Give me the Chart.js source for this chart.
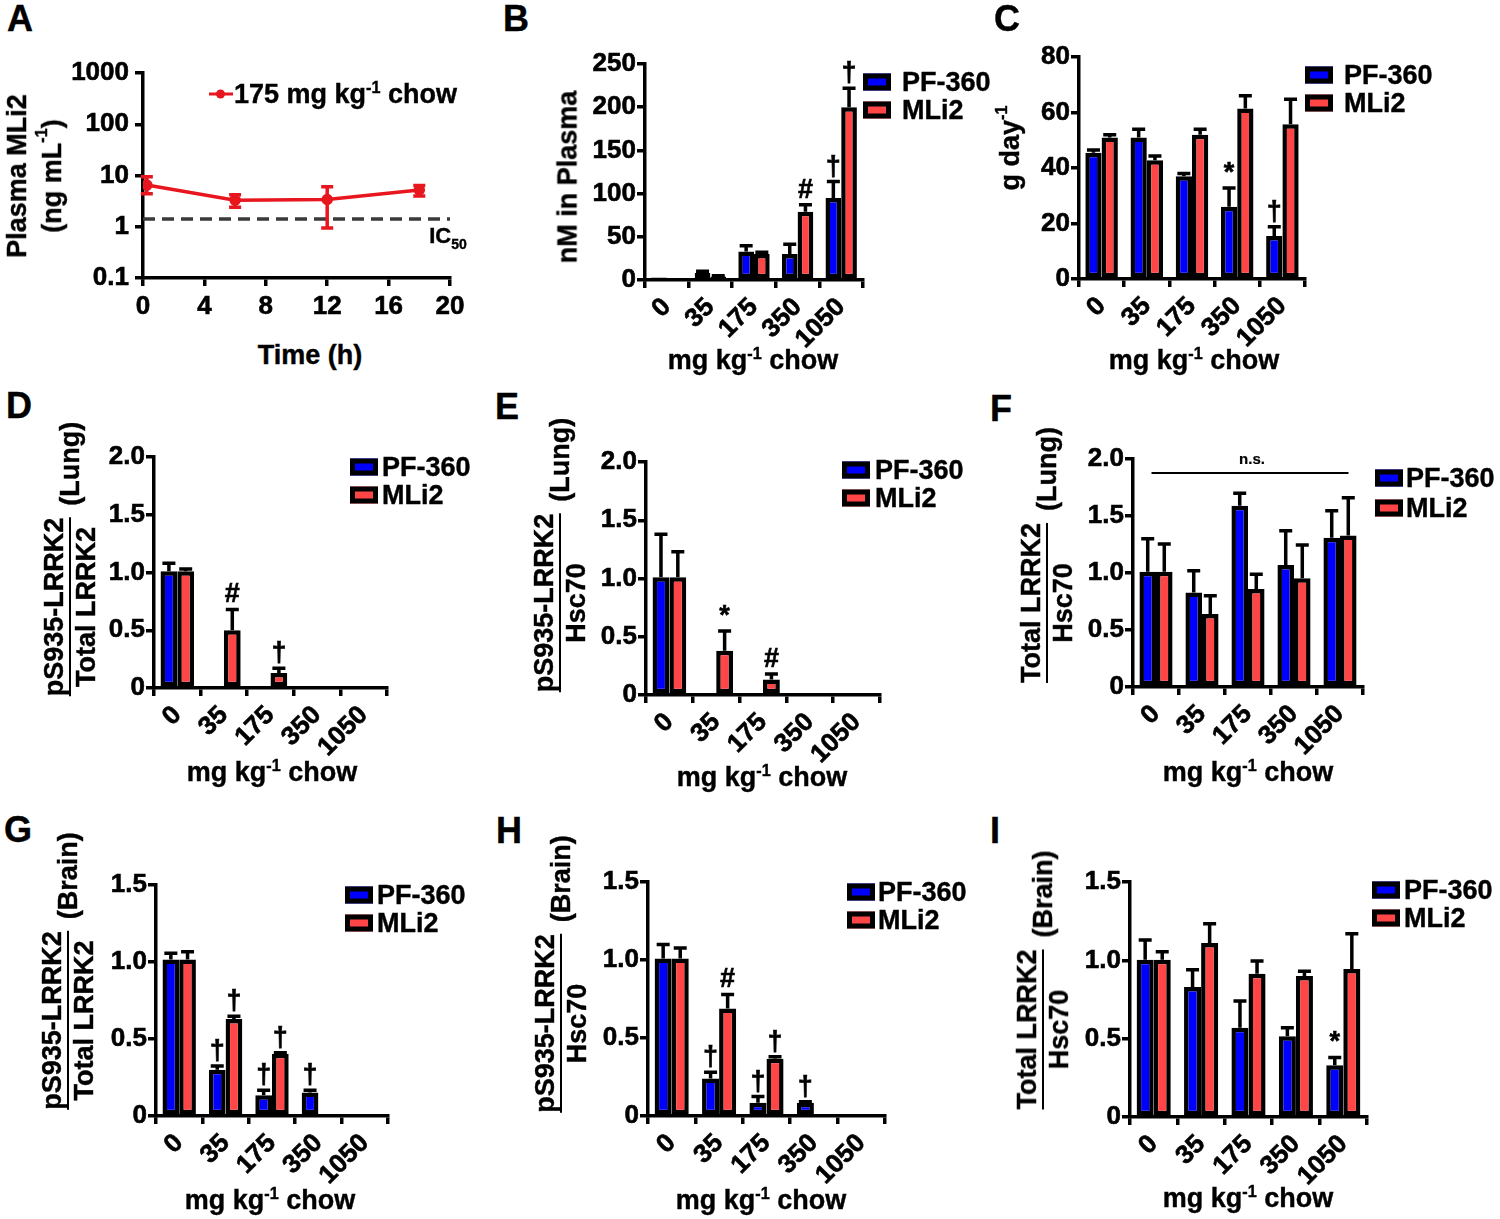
<!DOCTYPE html>
<html><head><meta charset="utf-8">
<script src="https://cdn.jsdelivr.net/npm/chart.js@4"></script>
<style>
html,body{margin:0;padding:0;background:#fff;}
body{width:1500px;height:1219px;position:relative;overflow:hidden;font-family:'Liberation Sans',Arial,Helvetica,sans-serif;font-weight:bold;color:#000;-webkit-text-stroke:0.4px #000;}
canvas{position:absolute;}
.t{position:absolute;white-space:nowrap;transform:translate(-50%,-50%);font-size:27px;line-height:1;}
.letter{position:absolute;font-size:36px;line-height:1;}
.yt{position:absolute;white-space:nowrap;transform:translate(-50%,-50%) rotate(-90deg);font-size:27px;text-align:center;}
.yt .ln{line-height:35px;}
.fr{display:flex;align-items:center;}
.frac{display:flex;flex-direction:column;align-items:center;}
.frac .n,.frac .d{line-height:30px;}
.frac .bar{align-self:stretch;height:2px;background:#000;}
.tag{margin-left:12px;line-height:30px;}
.lg{position:absolute;display:flex;align-items:center;font-size:27px;line-height:1;white-space:nowrap;transform:translateY(-50%);}
.box{width:28px;height:17px;box-sizing:border-box;border:5px solid #000;}
sup{font-size:60%;position:relative;top:-0.1em;vertical-align:top;line-height:1;}
</style>
</head><body>
<script>
// ---------------- DATA ----------------
const doseLabels = ['0', '35', '175', '350', '1050'];
const seriesNames = ['PF-360', 'MLi2'];

// Panel A (plasma MLi2, 175 mg/kg chow)
const timeHours = [0.25, 6, 12, 18];
const plasmaMLi2 = [6.5, 3.3, 3.4, 5.2];
const plasmaMLi2Upper = [9.5, 4.2, 6.0, 6.4];
const plasmaMLi2Lower = [4.4, 2.4, 0.95, 4.0];
const ic50Level = 1.42;
const logTickValues = [0.1, 1, 10, 100, 1000];
const timeTickStep = 4;

// Panel B (nM in plasma)
const bPF360 = [3, 8, 33, 30, 95];
const bPF360Err = [0, 2, 6.5, 11.5, 19];
const bMLi2 = [0, 4, 30, 79, 200];
const bMLi2Err = [0, 1, 2, 8, 22];
const bPF360Sig = ['', '', '', '', '†'];
const bMLi2Sig = ['', '', '', '#', '†'];

// Panel C (g/day)
const cPF360 = [45.5, 51, 37, 26, 15.5];
const cPF360Err = [1, 3, 1, 6.8, 3.3];
const cMLi2 = [51, 42.8, 52, 61.4, 55.8];
const cMLi2Err = [1, 1.5, 2, 4.6, 9];
const cPF360Sig = ['', '', '', '*', '†'];
const cMLi2Sig = ['', '', '', '', ''];

// Panel D (pS935/Total, lung)
const dPF360 = [1.01, 0, 0, 0, 0];
const dPF360Err = [0.07, 0, 0, 0, 0];
const dMLi2 = [1.01, 0.50, 0.13, 0, 0];
const dMLi2Err = [0.02, 0.18, 0.04, 0, 0];
const dPF360Sig = ['', '', '', '', ''];
const dMLi2Sig = ['', '#', '†', '', ''];

// Panel E (pS935/Hsc70, lung)
const ePF360 = [1.01, 0, 0, 0, 0];
const ePF360Err = [0.37, 0, 0, 0, 0];
const eMLi2 = [1.01, 0.38, 0.134, 0, 0];
const eMLi2Err = [0.22, 0.17, 0.046, 0, 0];
const ePF360Sig = ['', '', '', '', ''];
const eMLi2Sig = ['', '*', '#', '', ''];

// Panel F (Total/Hsc70, lung)
const fPF360 = [1.01, 0.83, 1.59, 1.07, 1.31];
const fPF360Err = [0.29, 0.19, 0.11, 0.30, 0.235];
const fMLi2 = [1.01, 0.64, 0.86, 0.955, 1.33];
const fMLi2Err = [0.245, 0.16, 0.13, 0.29, 0.33];
const fPF360Sig = ['', '', '', '', ''];
const fMLi2Sig = ['', '', '', '', ''];

// Panel G (pS935/Total, brain)
const gPF360 = [1.017, 0.30, 0.134, 0.152, 0];
const gPF360Err = [0.04, 0.025, 0.033, 0.015, 0];
const gMLi2 = [1.017, 0.63, 0.405, 0, 0];
const gMLi2Err = [0.05, 0.018, 0.006, 0, 0];
const gPF360Sig = ['', '†', '†', '†', ''];
const gMLi2Sig = ['', '†', '†', '', ''];

// Panel H (pS935/Hsc70, brain)
const hPF360 = [1.009, 0.241, 0.085, 0.085, 0];
const hPF360Err = [0.09, 0.04, 0.04, 0.006, 0];
const hMLi2 = [1.009, 0.689, 0.367, 0, 0];
const hMLi2Err = [0.068, 0.09, 0.013, 0, 0];
const hPF360Sig = ['', '†', '†', '†', ''];
const hMLi2Sig = ['', '#', '†', '', ''];

// Panel I (Total/Hsc70, brain)
const iPF360 = [1.004, 0.83, 0.57, 0.515, 0.33];
const iPF360Err = [0.126, 0.11, 0.17, 0.055, 0.05];
const iMLi2 = [1.004, 1.11, 0.915, 0.90, 0.945];
const iMLi2Err = [0.05, 0.124, 0.08, 0.03, 0.225];
const iPF360Sig = ['', '', '', '', '*'];
const iMLi2Sig = ['', '', '', '', ''];

// ---------------- STYLE ----------------
const FONT = "'Liberation Sans', Arial, Helvetica, sans-serif";
const BLUE = '#0000FF', RED = '#FF4545', LINE_RED = '#E8161E';

const errPlugin = {
  id: 'errbars',
  afterDatasetsDraw(chart) {
    const ctx = chart.ctx, ys = chart.scales.y;
    ctx.save();
    chart.data.datasets.forEach((ds, di) => {
      const meta = chart.getDatasetMeta(di);
      if (ds.err) {
        meta.data.forEach((el, i) => {
          const v = ds.data[i], e = ds.err[i];
          const x = el.x;
          const y0 = ys.getPixelForValue(v), y1 = ys.getPixelForValue(v + e);
          ctx.strokeStyle = '#000'; ctx.lineWidth = 3.5; ctx.lineCap = 'butt';
          if (e > 0) {
            ctx.beginPath(); ctx.moveTo(x, y0); ctx.lineTo(x, y1 - 1.75);
            ctx.moveTo(x - 6.5, y1); ctx.lineTo(x + 6.5, y1); ctx.stroke();
          }
          if (ds.sig && ds.sig[i]) {
            ctx.fillStyle = '#000';
            ctx.font = 'bold 27px ' + FONT;
            ctx.textAlign = 'center'; ctx.textBaseline = 'alphabetic';
            ctx.lineWidth = 0.6; ctx.strokeStyle = '#000';
            ctx.fillText(ds.sig[i], x, y1 - 7);
            ctx.strokeText(ds.sig[i], x, y1 - 7);
          }
        });
      } else if (ds.upper) {
        meta.data.forEach((el, i) => {
          const x = el.x;
          const yu = ys.getPixelForValue(ds.upper[i]), yl = ys.getPixelForValue(ds.lower[i]);
          ctx.strokeStyle = ds.borderColor; ctx.lineWidth = 3.5;
          ctx.beginPath(); ctx.moveTo(x, yu); ctx.lineTo(x, yl);
          ctx.moveTo(x - 6, yu); ctx.lineTo(x + 6, yu);
          ctx.moveTo(x - 6, yl); ctx.lineTo(x + 6, yl); ctx.stroke();
        });
      }
    });
    ctx.restore();
  }
};
Chart.register(errPlugin);

function placeCanvas(rect, padL, padT, padR, padB) {
  const [l, t, r, b] = rect;
  const c = document.createElement('canvas');
  const w = r - l + padL + padR, h = b - t + padT + padB;
  c.width = w; c.height = h;
  c.style.left = (l - padL) + 'px'; c.style.top = (t - padT) + 'px';
  c.style.width = w + 'px'; c.style.height = h + 'px';
  document.body.appendChild(c);
  return c;
}

function axisCommon(fitProp, fitVal, padding) {
  return {
    grid: {display: true, drawOnChartArea: false, drawTicks: true, tickLength: 8, color: '#000', lineWidth: 3.5, tickWidth: 3.5},
    border: {display: true, color: '#000', width: 3.5},
    ticks: {color: '#000', font: {family: FONT, size: 26, weight: 'bold'}, padding: padding, textStrokeColor: '#000', textStrokeWidth: 0.6},
    afterFit: s => { s[fitProp] = fitVal; }
  };
}

function barPanel(p) {
  const PADL = 110, PADT = 30, PADR = 40, PADB = 90;
  const canvas = placeCanvas(p.rect, PADL, PADT, PADR, PADB);
  const xAx = axisCommon('height', PADB, 4);
  Object.assign(xAx.ticks, {autoSkip: false, minRotation: 45, maxRotation: 45});
  xAx.offset = true;
  const yAx = axisCommon('width', PADL, 1);
  yAx.min = 0; yAx.max = p.yMax;
  yAx.ticks.stepSize = p.yStep;
  yAx.ticks.callback = v => v === 0 ? '0' : (p.yDec ? v.toFixed(p.yDec) : String(v));
  new Chart(canvas, {
    type: 'bar',
    data: {labels: doseLabels, datasets: [
      {label: seriesNames[0], data: p.pf, err: p.pfErr, sig: p.pfSig, backgroundColor: BLUE, borderColor: '#000', borderWidth: 4.5, borderSkipped: false},
      {label: seriesNames[1], data: p.ml, err: p.mlErr, sig: p.mlSig, backgroundColor: RED, borderColor: '#000', borderWidth: 4.5, borderSkipped: false}
    ]},
    options: {
      responsive: false, animation: false, devicePixelRatio: 1,
      layout: {padding: {left: 0, top: PADT, right: PADR, bottom: 0}},
      datasets: {bar: {categoryPercentage: 0.72, barPercentage: 1}},
      plugins: {legend: {display: false}, tooltip: {enabled: false}},
      scales: {x: xAx, y: yAx}
    }
  });
}

function panelA() {
  const rect = [143, 73, 450, 278];
  const PADL = 110, PADT = 30, PADR = 60, PADB = 60;
  const canvas = placeCanvas(rect, PADL, PADT, PADR, PADB);
  const xAx = axisCommon('height', PADB, 5);
  Object.assign(xAx, {type: 'linear', min: 0, max: 20});
  xAx.ticks.stepSize = timeTickStep; xAx.ticks.maxRotation = 0;
  const yAx = axisCommon('width', PADL, 6);
  Object.assign(yAx, {type: 'logarithmic', min: 0.1, max: 1000,
    afterBuildTicks: s => { s.ticks = logTickValues.map(v => ({value: v})); }});
  yAx.ticks.callback = v => String(v);
  new Chart(canvas, {
    type: 'line',
    data: {datasets: [
      {label: '175 mg kg-1 chow', data: timeHours.map((t, i) => ({x: t, y: plasmaMLi2[i]})),
       upper: plasmaMLi2Upper, lower: plasmaMLi2Lower,
       borderColor: LINE_RED, backgroundColor: LINE_RED, borderWidth: 3.5, pointRadius: 4, tension: 0},
      {label: 'IC50', data: [{x: 0, y: ic50Level}, {x: 20, y: ic50Level}],
       borderColor: '#3a3a3a', borderWidth: 3.5, borderDash: [12, 7], pointRadius: 0}
    ]},
    options: {
      responsive: false, animation: false, devicePixelRatio: 1,
      layout: {padding: {left: 0, top: PADT, right: PADR, bottom: 0}},
      plugins: {legend: {display: false}, tooltip: {enabled: false}},
      scales: {x: xAx, y: yAx}
    }
  });
}

panelA();
barPanel({rect: [645, 64, 863, 280], yMax: 250, yStep: 50, yDec: 0, pf: bPF360, pfErr: bPF360Err, ml: bMLi2, mlErr: bMLi2Err, pfSig: bPF360Sig, mlSig: bMLi2Sig});
barPanel({rect: [1079, 57, 1305, 279], yMax: 80, yStep: 20, yDec: 0, pf: cPF360, pfErr: cPF360Err, ml: cMLi2, mlErr: cMLi2Err, pfSig: cPF360Sig, mlSig: cMLi2Sig});
barPanel({rect: [154, 457, 387, 688], yMax: 2, yStep: 0.5, yDec: 1, pf: dPF360, pfErr: dPF360Err, ml: dMLi2, mlErr: dMLi2Err, pfSig: dPF360Sig, mlSig: dMLi2Sig});
barPanel({rect: [646, 462, 880, 695], yMax: 2, yStep: 0.5, yDec: 1, pf: ePF360, pfErr: ePF360Err, ml: eMLi2, mlErr: eMLi2Err, pfSig: ePF360Sig, mlSig: eMLi2Sig});
barPanel({rect: [1133, 459, 1363, 687], yMax: 2, yStep: 0.5, yDec: 1, pf: fPF360, pfErr: fPF360Err, ml: fMLi2, mlErr: fMLi2Err, pfSig: fPF360Sig, mlSig: fMLi2Sig});
barPanel({rect: [156, 885, 388, 1116], yMax: 1.5, yStep: 0.5, yDec: 1, pf: gPF360, pfErr: gPF360Err, ml: gMLi2, mlErr: gMLi2Err, pfSig: gPF360Sig, mlSig: gMLi2Sig});
barPanel({rect: [648, 882, 885, 1116], yMax: 1.5, yStep: 0.5, yDec: 1, pf: hPF360, pfErr: hPF360Err, ml: hMLi2, mlErr: hMLi2Err, pfSig: hPF360Sig, mlSig: hMLi2Sig});
barPanel({rect: [1130, 882, 1367, 1117], yMax: 1.5, yStep: 0.5, yDec: 1, pf: iPF360, pfErr: iPF360Err, ml: iMLi2, mlErr: iMLi2Err, pfSig: iPF360Sig, mlSig: iMLi2Sig});

// ---------------- TEXT ----------------
function add(cls, x, y, html, extra) {
  const d = document.createElement('div');
  d.className = cls; d.style.left = x + 'px'; d.style.top = y + 'px';
  d.innerHTML = html;
  if (extra) Object.assign(d.style, extra);
  document.body.appendChild(d);
  return d;
}
// panel letters
[['A', 7, 1], ['B', 503, 1], ['C', 994, 1], ['D', 6, 388], ['E', 495, 389], ['F', 990, 391], ['G', 4, 812], ['H', 496, 813], ['I', 990, 813]]
  .forEach(([s, x, y]) => add('letter', x, y, s));

// x axis titles
const chowTitle = 'mg kg<sup>-1</sup> chow';
add('t', 310, 355, 'Time (h)');
[[753, 360], [1194, 360], [272, 772], [762, 777], [1248, 772], [270, 1200], [761, 1200], [1248, 1198]]
  .forEach(([x, y]) => add('t', x, y, chowTitle));

// y axis titles
add('yt', 35, 176, '<div class="ln">Plasma MLi2</div><div class="ln">(ng mL<sup>-1</sup>)</div>');
add('yt', 568, 177, 'nM in Plasma');
add('yt', 1010, 148, 'g day<sup>-1</sup>');
function fracTitle(x, y, num, den, tag) {
  add('yt', x, y, '<div class="fr"><div class="frac"><div class="n">' + num + '</div><div class="bar"></div><div class="d">' + den + '</div></div><div class="tag">' + tag + '</div></div>');
}
fracTitle(70, 559, 'pS935-LRRK2', 'Total LRRK2', '(Lung)');
fracTitle(560, 555, 'pS935-LRRK2', 'Hsc70', '(Lung)');
fracTitle(1047, 555, 'Total LRRK2', 'Hsc70', '(Lung)');
fracTitle(68, 971, 'pS935-LRRK2', 'Total LRRK2', '(Brain)');
fracTitle(561, 974, 'pS935-LRRK2', 'Hsc70', '(Brain)');
fracTitle(1043, 980, 'Total LRRK2', 'Hsc70', '(Brain)');

// legends
function legend(x, y1, y2, gap) {
  const cols = [BLUE, RED];
  [y1, y2].forEach((y, k) => {
    add('lg', x, y, '<div class="box" style="background:' + cols[k] + ';margin-right:' + gap + 'px"></div><span>' + seriesNames[k] + '</span>');
  });
}
legend(863, 82, 110, 11);
legend(1305, 75, 103, 11);
legend(350, 467, 495, 4);
legend(842, 470, 498, 5);
legend(1375, 478, 508, 3);
legend(345, 895, 923, 4);
legend(847, 892, 920, 3);
legend(1372, 890, 918, 4);

// panel A legend
add('lg', 209, 94, '<div style="position:relative;width:24px;height:3px;background:' + LINE_RED + ';margin-right:1px"><div style="position:absolute;left:7px;top:-3px;width:9px;height:9px;border-radius:50%;background:' + LINE_RED + '"></div></div><span>175 mg kg<sup>-1</sup> chow</span>');
// IC50 label
add('t', 448, 236, 'IC<span style="font-size:14px;position:relative;top:6px">50</span>', {fontSize: '22px'});
// n.s. bracket in F
add('t', 1252, 458, 'n.s.', {fontSize: '15px', webkitTextStroke: '0.2px #000'});
add('t', 1250, 473, '', {width: '197px', height: '2px', background: '#000'});
</script>
</body></html>
